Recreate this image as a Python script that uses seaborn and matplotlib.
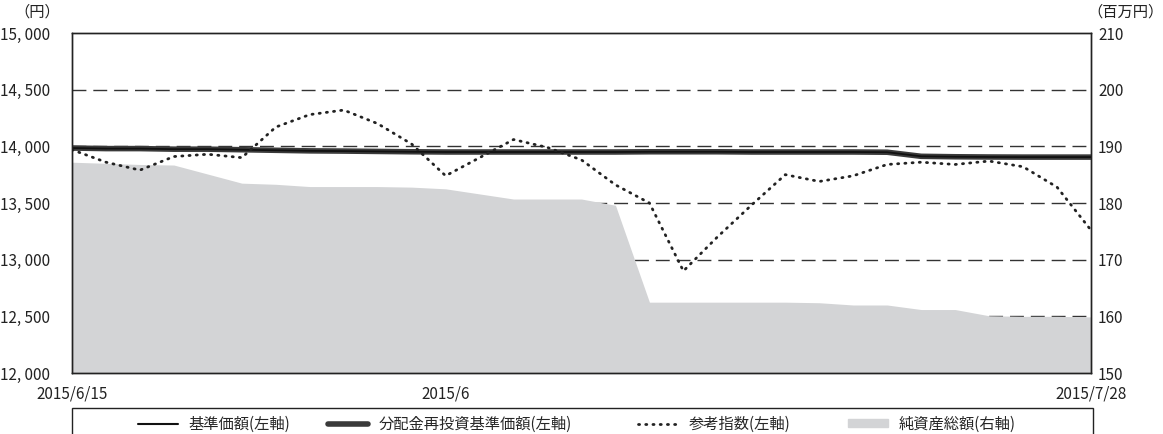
import numpy as np
import pandas as pd
import matplotlib
matplotlib.use('Agg')
import matplotlib.pyplot as plt
import seaborn as sns
from matplotlib.lines import Line2D
from matplotlib.patches import Patch, Rectangle
from matplotlib.ticker import FuncFormatter

# data (business days 2015/6/15 - 2015/7/28)
day_idx = list(range(31))
tick_pos = [0, 11, 30]
tick_labels = ['2015/6/15', '2015/6', '2015/7/28']

nav = [13985, 13980, 13980, 13975, 13975, 13970, 13965, 13960, 13958, 13955,
       13952, 13950, 13950, 13950, 13950, 13950, 13950, 13952, 13952, 13952,
       13950, 13950, 13950, 13950, 13948, 13912, 13908, 13906, 13905, 13905, 13905]
nav_reinv = nav[:]
ref_index = [13970, 13860, 13790, 13910, 13930, 13900, 14170, 14280, 14320, 14200,
             14020, 13740, 13900, 14060, 13990, 13880, 13660, 13500, 12900, 13200,
             13480, 13750, 13690, 13740, 13840, 13860, 13840, 13870, 13820, 13640, 13260]
net_assets = [187.2, 187.0, 186.8, 186.7, 185.1, 183.5, 183.3, 182.9, 182.9, 182.9,
              182.8, 182.5, 181.6, 180.7, 180.7, 180.7, 179.6, 162.5, 162.5, 162.5,
              162.5, 162.5, 162.4, 162.0, 162.0, 161.2, 161.2, 160.1, 160.0, 160.0, 159.9]

df = pd.DataFrame({'idx': day_idx, 'nav': nav, 'nav_reinv': nav_reinv,
                   'ref': ref_index, 'assets': net_assets})

sns.set_theme(style='white')
plt.rcParams['font.family'] = ['Noto Sans CJK JP', 'DejaVu Sans']

W, H = 1163, 434
fig = plt.figure(figsize=(W / 100, H / 100), dpi=100)
ax2 = fig.add_axes([72 / W, 1 - 373 / H, (1091 - 72) / W, (373 - 33) / H])
ax1 = ax2.twinx()
# left axis in front, right (area) axis behind
ax1.set_zorder(2)
ax1.patch.set_visible(False)
ax2.yaxis.tick_right()
ax1.yaxis.tick_left()

# net assets area + grid on the back axis
ax2.set_ylim(150, 210)
for v in [160, 170, 180, 190, 200]:
    ax2.axhline(v, color='#333333', lw=1, ls=(0, (10, 5)), zorder=0)
ax2.fill_between(df['idx'], df['assets'], 150, color='#d3d4d6', lw=0, zorder=1)
ax2.set_yticks([150, 160, 170, 180, 190, 200, 210])
ax2.tick_params(axis='y', right=True, left=False, labelright=True, labelleft=False,
                length=0, pad=5, labelsize=11, labelcolor='#222222')

sns.lineplot(data=df, x='idx', y='nav_reinv', ax=ax1, color='#3a3a3a', lw=4)
sns.lineplot(data=df, x='idx', y='nav', ax=ax1, color='#111111', lw=1.3)
sns.lineplot(data=df, x='idx', y='ref', ax=ax1, color='#222222', lw=2,
             linestyle=(0, (0.4, 2.2)), dash_capstyle='round')
ax1.set_ylim(12000, 15000)
ax1.set_yticks([12000, 12500, 13000, 13500, 14000, 14500, 15000])
ax1.yaxis.set_major_formatter(FuncFormatter(lambda v, p: f'{int(v):,}'.replace(',', ', ')))
ax1.tick_params(axis='y', left=True, right=False, labelleft=True, labelright=False,
                length=0, pad=16, labelsize=11, labelcolor='#222222')
ax1.set_xlim(0, 30)
ax2.set_xlim(0, 30)
ax1.set_xlabel('')
ax1.set_ylabel('')
ax2.set_ylabel('')

ax2.set_xticks(tick_pos)
ax2.set_xticklabels(tick_labels)
ax2.tick_params(axis='x', direction='in', length=6, width=1, color='#333333',
                labelsize=11, pad=9, labelcolor='#222222')
ax1.tick_params(axis='x', bottom=False, labelbottom=False)

for a in (ax1, ax2):
    for s in a.spines.values():
        s.set_color('#222222')
        s.set_linewidth(1)

fig.text(37 / W, 1 - 12 / H, '（円）', ha='center', va='center', fontsize=11, color='#222222')
fig.text(1125 / W, 1 - 12 / H, '（百万円）', ha='center', va='center', fontsize=11, color='#222222')

# legend box (bottom edge runs off the figure)
fig.patches.append(Rectangle((72 / W, -0.1), (1093 - 72) / W, (434 - 408) / H + 0.1,
                             transform=fig.transFigure, fill=False, ec='#222222', lw=1))
items = [
    (Line2D([], [], color='#111111', lw=1.5), '基準価額(左軸)', 138),
    (Line2D([], [], color='#3a3a3a', lw=4), '分配金再投資基準価額(左軸)', 328),
    (Line2D([], [], color='#222222', lw=2, linestyle=(0, (0.4, 2.2)),
            dash_capstyle='round'), '参考指数(左軸)', 638),
    (Patch(color='#d3d4d6'), '純資産総額(右軸)', 848),
]
for h, lab, x in items:
    fig.legend(handles=[h], labels=[lab], loc='center left',
               bbox_to_anchor=(x / W, 1 - 424 / H), frameon=False, fontsize=11,
               handlelength=2.6, handletextpad=0.7, borderaxespad=0, borderpad=0,
               handleheight=0.5)

fig.savefig('out.png', dpi=100)
